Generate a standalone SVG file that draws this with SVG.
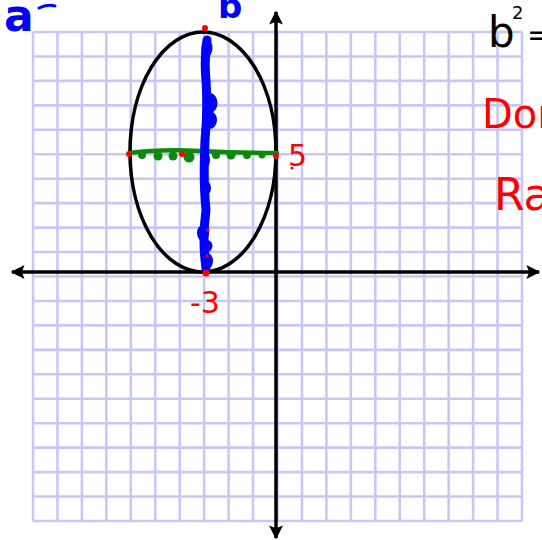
<svg xmlns="http://www.w3.org/2000/svg" width="542" height="540" viewBox="0 0 542 540">
<defs>
<style>
.grid{stroke:#c8c8f7;stroke-width:2.6;fill:none}
.axis{stroke:#000;stroke-width:3.5;fill:none}
.hand{font-family:"DejaVu Sans","Liberation Sans",sans-serif}
.red{fill:#ff0000}
</style>
<marker id="ah" viewBox="0 0 10 10" refX="9" refY="5" markerWidth="4" markerHeight="4" orient="auto-start-reverse" markerUnits="strokeWidth">
<path d="M0,0 L10,5 L0,10 L2,5 Z" fill="#000"/>
</marker>
</defs>
<rect width="542" height="540" fill="#fff"/>
<g id="grid">
<path class="grid" d="M33,32V521M57.45,32V521M81.9,32V521M106.35,32V521M130.8,32V521M155.25,32V521M179.7,32V521M204.15,32V521M228.6,32V521M253.05,32V521M277.5,32V521M301.95,32V521M326.4,32V521M350.85,32V521M375.3,32V521M399.75,32V521M424.2,32V521M448.65,32V521M473.1,32V521M497.55,32V521M522,32V521"/>
<path class="grid" d="M33,32H522M33,56.45H522M33,80.9H522M33,105.35H522M33,129.8H522M33,154.25H522M33,178.7H522M33,203.15H522M33,227.6H522M33,252.05H522M33,276.5H522M33,300.95H522M33,325.4H522M33,349.85H522M33,374.3H522M33,398.75H522M33,423.2H522M33,447.65H522M33,472.1H522M33,496.55H522M33,521H522"/>
</g>
<g id="axes">
<line class="axis" x1="12" y1="272" x2="539" y2="272" marker-start="url(#ah)" marker-end="url(#ah)"/>
<line class="axis" x1="276" y1="12" x2="276" y2="538" marker-start="url(#ah)" marker-end="url(#ah)"/>
</g>
<g id="ellipse">
<ellipse cx="203" cy="152" rx="73" ry="120" fill="none" stroke="#000" stroke-width="3.6"/>
</g>
<g id="green-axis">
<path d="M130,153 Q160,149 200,151 T277,153" fill="none" stroke="#0a8a0a" stroke-width="4.5" stroke-linecap="round"/>
<g fill="#0a8a0a">
<circle cx="142" cy="155" r="4"/><circle cx="158" cy="156" r="4.5"/><circle cx="173" cy="156" r="4.5"/><circle cx="189" cy="157" r="5.5"/>
<circle cx="216" cy="155" r="4"/><circle cx="231" cy="155" r="4.5"/><circle cx="247" cy="155" r="4"/><circle cx="262" cy="155" r="3.5"/>
</g>
</g>
<g id="blue-axis" fill="#0000ff">
<path d="M207,40 Q204,60 206,80 Q208,110 205,140 Q203,180 206,210 Q202,240 206,268" fill="none" stroke="#0000ff" stroke-width="9" stroke-linecap="round"/>
<ellipse cx="207" cy="48" rx="5.5" ry="9"/>
<ellipse cx="210" cy="103" rx="7.5" ry="10"/>
<ellipse cx="210" cy="120" rx="7" ry="9"/>
<ellipse cx="205" cy="160" rx="5" ry="8"/>
<ellipse cx="206" cy="188" rx="5" ry="7"/>
<ellipse cx="203" cy="233" rx="6" ry="8"/>
<ellipse cx="207" cy="246" rx="5.5" ry="6"/>
<ellipse cx="207" cy="261" rx="6" ry="8"/>
</g>
<g id="points" class="red">
<circle cx="205" cy="28" r="3"/>
<circle cx="129" cy="154" r="3"/>
<circle cx="182" cy="154" r="3"/>
<circle cx="276" cy="156" r="3"/>
<circle cx="206" cy="273" r="3.5"/>
<circle cx="207" cy="256" r="1.8"/>
<circle cx="208" cy="230" r="1.8"/>
<circle cx="292" cy="168" r="1.5"/>
</g>
<g id="labels" class="hand">
<text x="4" y="31" font-size="44" fill="#0000ff" font-weight="bold">a</text>
<path d="M39,8 Q47,4 55,6" fill="none" stroke="#0000ff" stroke-width="3" stroke-linecap="round"/>
<text x="218" y="18" font-size="34" fill="#0000ff" font-weight="bold">b</text>
<text x="488" y="47" font-size="42" fill="#000">b</text>
<text x="512" y="19" font-size="18" fill="#000">2</text>
<text x="527" y="45" font-size="30" fill="#000">=</text>
<text x="482" y="128" font-size="40" fill="#ff0000">Dom</text>
<text x="494" y="210" font-size="44" fill="#ff0000">Ra</text>
<text x="288" y="166" font-size="30" fill="#ff0000">5</text>
<text x="190" y="313" font-size="30" fill="#ff0000">-3</text>
</g>
</svg>
